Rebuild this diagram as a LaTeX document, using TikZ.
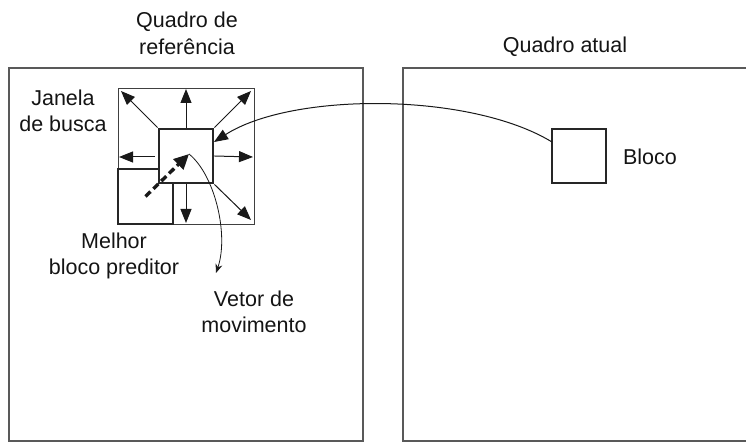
\documentclass[tikz,border=0pt]{standalone}
\usepackage{fontspec}
\setmainfont{Liberation Sans}
\usetikzlibrary{arrows.meta}
\begin{document}
\begin{tikzpicture}[x=1pt,y=-1pt,
  frame/.style={draw=black!65, line width=1.1pt},
  tblock/.style={draw=black!85, line width=2.9pt, minimum size=54pt, inner sep=0pt, fill=white},
  lbl/.style={font=\fontsize{21.5}{26.5}\selectfont, align=center, text=black!92, inner sep=0pt},
  arr/.style={-{Triangle[length=14pt,width=11pt]}, line width=1pt, draw=black!90},
  thinarr/.style={-{Stealth[length=9pt,width=7pt]}, line width=0.8pt, draw=black!90},
]
\useasboundingbox (0,0) rectangle (746,443);
% frames
\draw[frame] (9,68) rectangle (363,441);
\draw[frame] (747,68) -- (403,68) -- (403,441) -- (747,441);
% search window
\node[draw=black!75, line width=0.9pt, minimum size=136pt, inner sep=0pt] (win) at (186,156) {};
% best predictor block (behind)
\node[tblock, minimum size=55pt] (pred) at (145.5,196.5) {};
% current position block
\node[tblock] (cur) at (186,156) {};
% block in current frame
\node[tblock] (blk) at (579,156) {};
% arrow targets inside search window
\coordinate (tnw) at (121,91);
\coordinate (tn) at (186,89);
\coordinate (tne) at (251,91);
\coordinate (tw) at (119,157);
\coordinate (swl) at (155,157);
\coordinate (te) at (253,157);
\coordinate (ts) at (186,223);
\coordinate (tse) at (251,220);
\draw[arr] (cur.north west) -- (tnw);
\draw[arr] (cur.north) -- (tn);
\draw[arr] (cur.north east) -- (tne);
\draw[arr] (swl) -- (tw);
\draw[arr] (cur.east) -- (te);
\draw[arr] (cur.south) -- (ts);
\draw[arr] (cur.south east) -- (tse);
% motion vector (dashed)
\coordinate (mvtip) at (189,154);
\draw[line width=3.4pt, draw=black!90, dash pattern=on 7pt off 4pt,
  -{Triangle[length=15pt,width=14pt]}] (pred.center) -- (mvtip);
% curved arrow from block to reference position
\coordinate (blkin) at (552,142);
\coordinate (curin) at (214,142);
\draw[arr] (blkin) .. controls (470,92) and (292,92) .. (curin);
% labels
\node[lbl] (qref) at (187,33.5) {Quadro de\\referência};
\node[lbl] (qat) at (565,47) {Quadro atual};
\node[lbl] (jan) at (63,111) {Janela\\de busca};
\node[lbl] (mel) at (114,256) {Melhor\\bloco preditor};
\node[lbl] (vet) at (254,312) {Vetor de\\movimento};
\node[lbl] (blo) at (650,157) {Bloco};
% pointer to motion vector label
\coordinate (vtip) at (216,273);
\draw[thinarr] (mvtip) .. controls (215,175) and (229,235) .. (vtip);
\end{tikzpicture}
\end{document}
